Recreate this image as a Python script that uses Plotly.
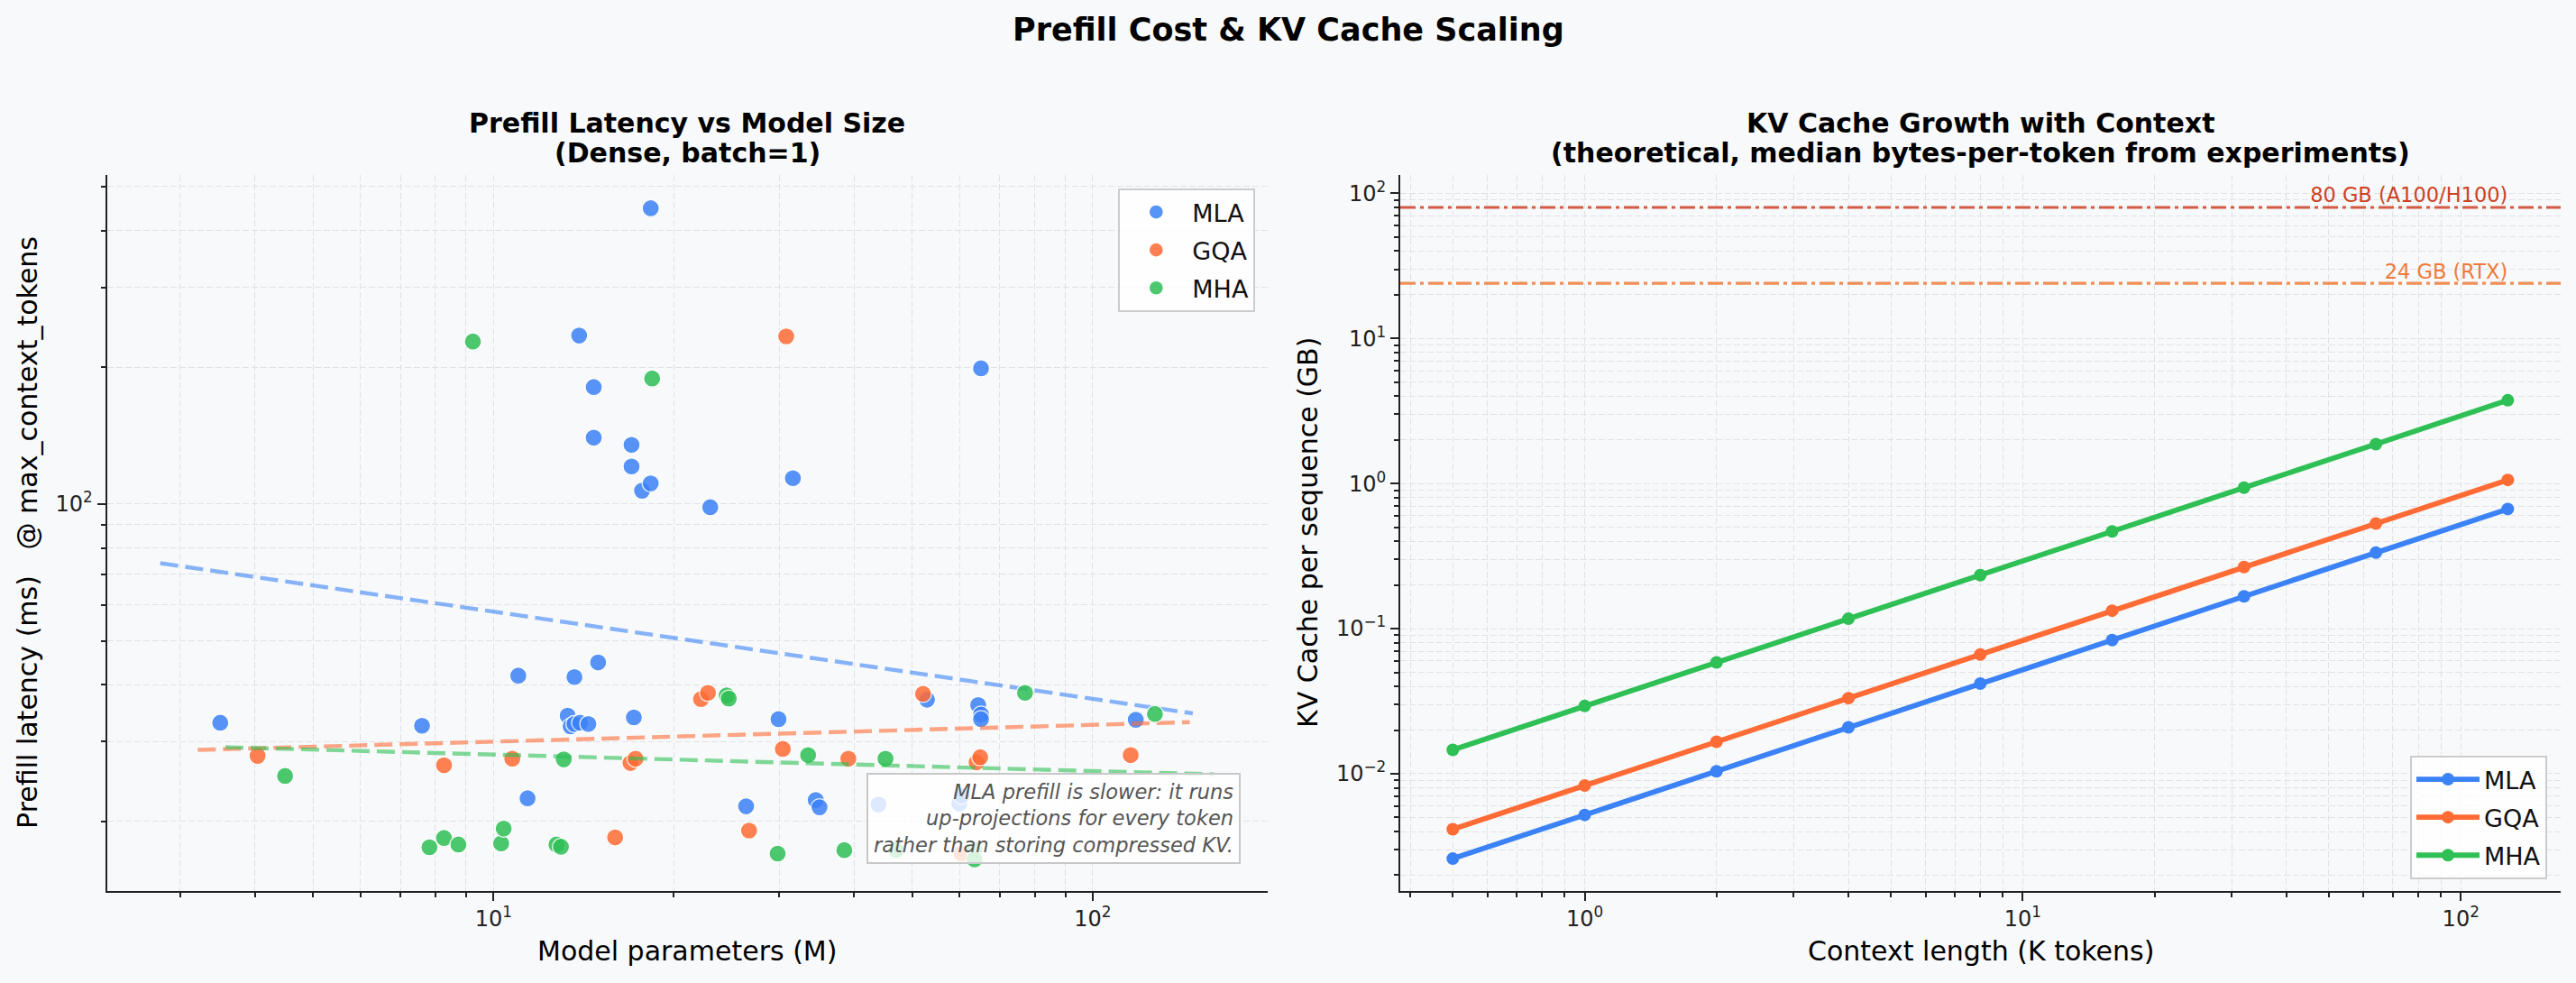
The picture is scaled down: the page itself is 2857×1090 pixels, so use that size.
import plotly.graph_objects as go

W, H = 2857, 1090
FONT = "DejaVu Sans"
BG = "#F8F9FA"
GRID = "#E1E2E6"
INK = "#222222"

# ---------------- data: left panel (model params [M], prefill latency [ms]) ----------------
arch_names = ["MLA", "GQA", "MHA"]
arch_colors = ["#3B82F6", "#FF6B35", "#2EBF55"]

mla_params = [3.5, 7.6, 11.0, 11.4, 13.3, 13.45, 13.65, 13.95, 14.4, 13.65, 13.9, 14.7, 14.7, 14.95, 17.0,
              17.0, 17.15, 17.7, 18.3, 18.3, 23.0, 26.4, 29.9, 31.6, 34.5, 35.0, 43.9, 52.9, 59.9, 60.4,
              64.4, 65.1, 65.1, 65.1, 118.0]
mla_latency = [33.0, 32.5, 41.9, 22.5, 34.2, 32.4, 32.8, 33.0, 32.8, 41.6, 235, 181, 140, 44.8, 135,
               121, 33.9, 107, 111, 448, 98.4, 21.6, 33.6, 114, 22.3, 21.5, 21.8, 37.1, 21.9, 22.8,
               36.1, 34.4, 33.6, 199, 33.5]

gqa_params = [4.04, 8.27, 10.75, 15.96, 16.93, 17.26, 22.2, 22.8, 26.7, 30.4, 30.8, 39.1, 52.1, 60.4,
              64.0, 64.9, 115.7]
gqa_latency = [27.9, 26.6, 27.5, 18.45, 26.9, 27.5, 37.2, 38.4, 19.1, 28.9, 234, 27.5, 38.2, 17.0,
               27.0, 27.7, 28.0]

mha_params = [4.49, 7.82, 8.27, 8.74, 9.24, 10.3, 10.4, 12.74, 12.96, 13.1, 18.4, 24.5, 24.7, 29.8,
              33.5, 38.5, 45.1, 47.0, 63.5, 63.5, 77.1, 127.0]
mha_latency = [25.2, 17.55, 18.4, 17.8, 228, 17.9, 19.3, 17.8, 17.6, 27.4, 189, 37.9, 37.3, 17.0,
               28.0, 17.3, 27.5, 17.3, 17.3, 16.5, 38.4, 34.5]

# log-log trend lines (end points)
mla_trend_x = [2.78, 146.9]
mla_trend_y = [74.1, 34.6]
gqa_trend_x = [3.21, 145.2]
gqa_trend_y = [28.75, 33.1]
mha_trend_x = [3.57, 159.3]
mha_trend_y = [29.15, 25.4]

# ---------------- data: right panel (context [K tokens], KV cache [GB]) ----------------
context_k = [0.5, 1, 2, 4, 8, 16, 32, 64, 128]
kv_mla = [0.0026, 0.0052, 0.0104, 0.0209, 0.0418, 0.0835, 0.167, 0.334, 0.668]
kv_gqa = [0.00415, 0.0083, 0.0166, 0.0332, 0.0664, 0.133, 0.266, 0.531, 1.06]
kv_mha = [0.0146, 0.0293, 0.0585, 0.117, 0.234, 0.468, 0.937, 1.87, 3.75]

gpu_limits_gb = [80, 24]
gpu_labels = ["80 GB (A100/H100)", "24 GB (RTX)"]
gpu_colors = ["#CD4123", "#F07A3A"]

# ---------------- tick labels ----------------
left_x_ticks = [10, 100]
left_x_ticktext = ["10<sup>1</sup>", "10<sup>2</sup>"]
left_x_minor = [3, 4, 5, 6, 7, 8, 9, 20, 30, 40, 50, 60, 70, 80, 90]
left_y_ticks = [100]
left_y_ticktext = ["10<sup>2</sup>"]
left_y_minor = [20, 30, 40, 50, 60, 70, 80, 90, 200, 300, 400, 500]

right_x_ticks = [1, 10, 100]
right_x_ticktext = ["10<sup>0</sup>", "10<sup>1</sup>", "10<sup>2</sup>"]
right_x_minor = [0.4, 0.5, 0.6, 0.7, 0.8, 0.9, 2, 3, 4, 5, 6, 7, 8, 9, 20, 30, 40, 50, 60, 70, 80, 90]
right_y_ticks = [0.01, 0.1, 1, 10, 100]
right_y_ticktext = ["10<sup>\u22122</sup>", "10<sup>\u22121</sup>", "10<sup>0</sup>", "10<sup>1</sup>", "10<sup>2</sup>"]
right_y_minor = [m * d for d in [0.001, 0.01, 0.1, 1, 10] for m in [2, 3, 4, 5, 6, 7, 8, 9]]

# ---------------- layout geometry ----------------
L_DOM_X = [118.6 / W, 1406.0 / W]
R_DOM_X = [1553.0 / W, 2840.0 / W]
DOM_Y = [1 - 987.5 / H, 1 - 194.3 / H]
L_RANGE_X = [0.355, 2.292]
L_RANGE_Y = [1.149, 2.724]
R_RANGE_X = [-0.421, 2.228]
R_RANGE_Y = [-2.805, 2.125]


def rgba(hex_, a):
    h = hex_.lstrip("#")
    return f"rgba({int(h[0:2], 16)},{int(h[2:4], 16)},{int(h[4:6], 16)},{a})"


fig = go.Figure()

left_sets = [
    (mla_params, mla_latency, mla_trend_x, mla_trend_y),
    (gqa_params, gqa_latency, gqa_trend_x, gqa_trend_y),
    (mha_params, mha_latency, mha_trend_x, mha_trend_y),
]
for name, color, (px, py, tx, ty) in zip(arch_names, arch_colors, left_sets):
    fig.add_trace(go.Scatter(
        x=px, y=py, mode="markers", name=name, xaxis="x", yaxis="y",
        legend="legend", legendgroup="L" + name,
        marker=dict(size=19, color=color, opacity=0.85, line=dict(color="white", width=1.3)),
    ))
    fig.add_trace(go.Scatter(
        x=tx, y=ty, mode="lines", showlegend=False, xaxis="x", yaxis="y",
        legendgroup="L" + name, hoverinfo="skip",
        line=dict(color=rgba(color, 0.6), width=4.4, dash="20px,8px"),
    ))

for name, color, vals in zip(arch_names, arch_colors, [kv_mla, kv_gqa, kv_mha]):
    fig.add_trace(go.Scatter(
        x=context_k, y=vals, mode="lines+markers", name=name, xaxis="x2", yaxis="y2",
        legend="legend2", legendgroup="R" + name,
        line=dict(color=color, width=5.8), marker=dict(size=14, color=color),
    ))

for lim, lab, col in zip(gpu_limits_gb, gpu_labels, gpu_colors):
    fig.add_trace(go.Scatter(
        x=[10 ** R_RANGE_X[0], 10 ** R_RANGE_X[1]], y=[lim, lim], mode="lines",
        xaxis="x2", yaxis="y2", showlegend=False, hoverinfo="skip",
        line=dict(color=rgba(col, 0.85), width=3.2, dash="17px,5px,4px,5px"),
    ))
    fig.add_trace(go.Scatter(
        x=[context_k[-1]], y=[lim], mode="text", text=[lab], textposition="top left",
        xaxis="x2", yaxis="y2", showlegend=False, hoverinfo="skip",
        textfont=dict(family=FONT, size=22.5, color=col),
    ))


def axis(domain, rng, anchor, tickvals, ticktext, minor):
    return dict(
        type="log", domain=domain, range=rng, anchor=anchor,
        tickmode="array", tickvals=tickvals, ticktext=ticktext,
        ticks="outside", ticklen=9, tickwidth=2, tickcolor=INK,
        tickfont=dict(family=FONT, size=24, color=INK),
        showline=True, linecolor=INK, linewidth=2, mirror=False, zeroline=False,
        showgrid=True, gridcolor=GRID, gridwidth=1.3, griddash="7px,3px",
        minor=dict(tickmode="array", tickvals=minor, ticks="outside", ticklen=5,
                   tickwidth=1.5, tickcolor=INK, showgrid=True, gridcolor=GRID,
                   gridwidth=1.3, griddash="7px,3px"),
    )


legend_common = dict(
    bgcolor="rgba(255,255,255,0.8)", bordercolor="#CCCCCC", borderwidth=2,
    font=dict(family=FONT, size=27, color="#111111"), traceorder="grouped",
    tracegroupgap=4, itemwidth=70,
)

annotations = [
    dict(text="<b>Prefill Cost & KV Cache Scaling</b>", x=0.5, y=1 - 33 / H, xref="paper", yref="paper",
         xanchor="center", yanchor="middle", showarrow=False, font=dict(family=FONT, size=35, color="#000")),
    dict(text="<b>Prefill Latency vs Model Size</b>", x=sum(L_DOM_X) / 2, y=1 - 136 / H, xref="paper",
         yref="paper", xanchor="center", yanchor="middle", showarrow=False,
         font=dict(family=FONT, size=30, color="#000")),
    dict(text="<b>(Dense, batch=1)</b>", x=sum(L_DOM_X) / 2, y=1 - 170 / H, xref="paper",
         yref="paper", xanchor="center", yanchor="middle", showarrow=False,
         font=dict(family=FONT, size=30, color="#000")),
    dict(text="<b>KV Cache Growth with Context</b>", x=sum(R_DOM_X) / 2, y=1 - 136 / H, xref="paper",
         yref="paper", xanchor="center", yanchor="middle", showarrow=False,
         font=dict(family=FONT, size=30, color="#000")),
    dict(text="<b>(theoretical, median bytes-per-token from experiments)</b>", x=sum(R_DOM_X) / 2,
         y=1 - 170 / H, xref="paper", yref="paper", xanchor="center", yanchor="middle", showarrow=False,
         font=dict(family=FONT, size=30, color="#000")),
    dict(text="Model parameters (M)", x=sum(L_DOM_X) / 2, y=1 - 1054 / H, xref="paper", yref="paper",
         xanchor="center", yanchor="middle", showarrow=False, font=dict(family=FONT, size=30, color="#000")),
    dict(text="Context length (K tokens)", x=sum(R_DOM_X) / 2, y=1 - 1054 / H, xref="paper", yref="paper",
         xanchor="center", yanchor="middle", showarrow=False, font=dict(family=FONT, size=30, color="#000")),
    dict(text="Prefill latency (ms)\u00a0\u00a0\u00a0@ max_context_tokens", x=31 / W, y=sum(DOM_Y) / 2,
         xref="paper", yref="paper", xanchor="center", yanchor="middle", textangle=-90, showarrow=False,
         font=dict(family=FONT, size=30, color="#000")),
    dict(text="KV Cache per sequence (GB)", x=1451 / W, y=sum(DOM_Y) / 2,
         xref="paper", yref="paper", xanchor="center", yanchor="middle", textangle=-90, showarrow=False,
         font=dict(family=FONT, size=30, color="#000")),
    dict(text="<i>MLA prefill is slower: it runs<br>up-projections for every token<br>"
              "rather than storing compressed KV.</i>",
         x=1376 / W, y=1 - 958 / H, xref="paper", yref="paper", xanchor="right", yanchor="bottom",
         align="right", showarrow=False, bgcolor="rgba(255,255,255,0.8)", bordercolor="#C8C8C8",
         borderwidth=2, borderpad=6, font=dict(family=FONT, size=22.5, color="#555555")),
]

fig.update_layout(
    width=W, height=H, margin=dict(l=0, r=0, t=0, b=0),
    paper_bgcolor=BG, plot_bgcolor=BG, font=dict(family=FONT, color=INK),
    xaxis=axis(L_DOM_X, L_RANGE_X, "y", left_x_ticks, left_x_ticktext, left_x_minor),
    yaxis=axis(DOM_Y, L_RANGE_Y, "x", left_y_ticks, left_y_ticktext, left_y_minor),
    xaxis2=axis(R_DOM_X, R_RANGE_X, "y2", right_x_ticks, right_x_ticktext, right_x_minor),
    yaxis2=axis(DOM_Y, R_RANGE_Y, "x2", right_y_ticks, right_y_ticktext, right_y_minor),
    legend=dict(x=1392.3 / W, y=1 - 209 / H, xanchor="right", yanchor="top", **legend_common),
    legend2=dict(x=2825 / W, y=1 - 975 / H, xanchor="right", yanchor="bottom", **legend_common),
    annotations=annotations,
    showlegend=True,
)

fig.write_html("out.html", config={"displayModeBar": False})
